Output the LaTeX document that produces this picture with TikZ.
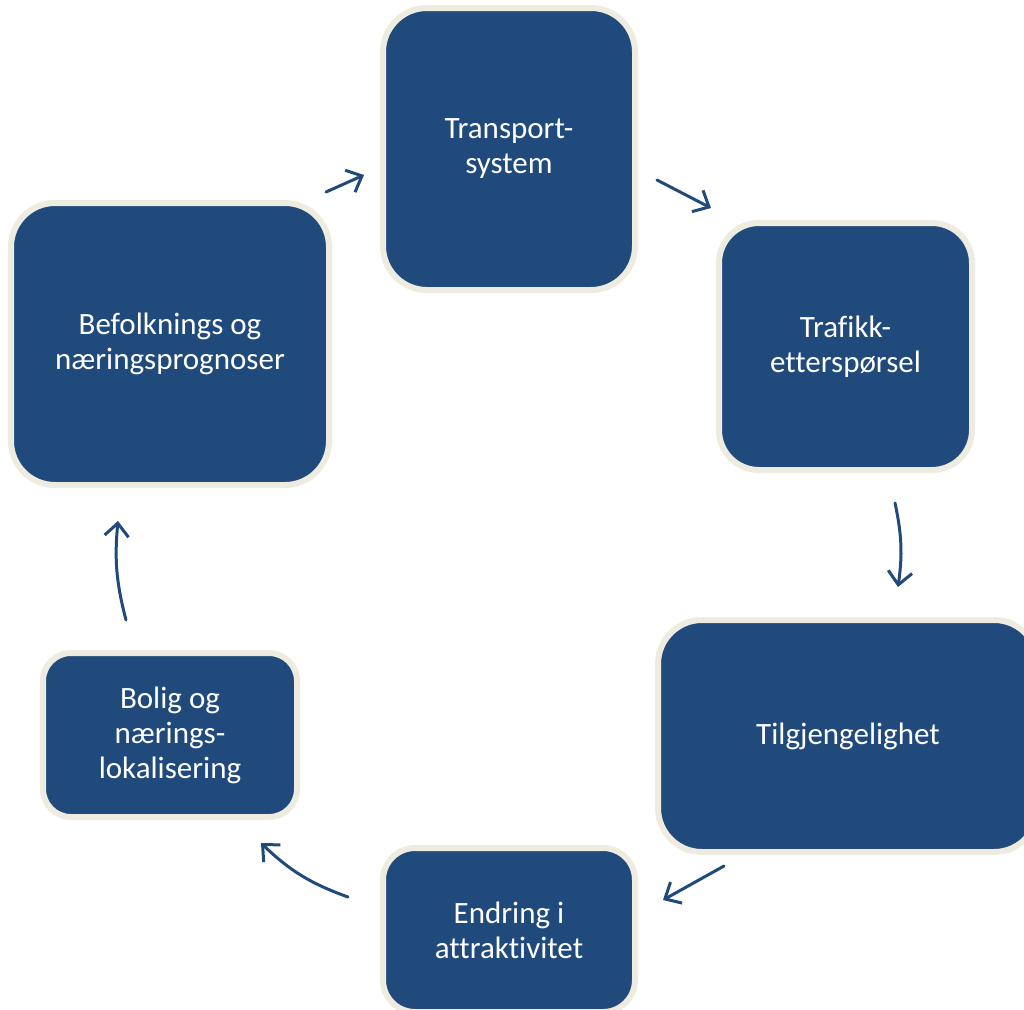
\documentclass[tikz,border=0pt]{standalone}
\usepackage{fontspec}
\setmainfont{Carlito}[Ligatures={NoCommon}]
\usetikzlibrary{arrows.meta}
\definecolor{boxblue}{HTML}{204A7C}
\definecolor{cream}{HTML}{EEECE1}
\begin{document}
\begin{tikzpicture}[x=1pt,y=-1pt,
  blk/.style={draw=cream,line width=6pt,fill=boxblue,text=white,
    rounded corners=#1,inner sep=0pt,align=center,
    font=\fontsize{31}{35}\selectfont},
  blk/.default=44pt,
  flow/.style={draw=boxblue,line width=3pt,line cap=round,
    -{Straight Barb[length=13pt,width=24pt,line width=3pt]}}]
\useasboundingbox (0,0) rectangle (1024,1009);
\clip (0,0) rectangle (1024,1009);
\fill[white] (0,0) rectangle (1024,1009);
\node[blk,minimum width=252pt,minimum height=282pt] (ts) at (509,149) {Transport-\\system};
\node[blk=40pt,minimum width=253pt,minimum height=247pt] (te) at (845.5,346.5) {Trafikk-\\etterspørsel};
\node[blk,minimum width=380pt,minimum height=232pt] (tg) at (848,736) {Tilgjengelighet};
\node[blk=32pt,minimum width=252pt,minimum height=164pt] (ea) at (509,930) {Endring i\\attraktivitet};
\node[blk=28pt,minimum width=254pt,minimum height=164pt] (bn) at (170,735) {Bolig og\\nærings-\\lokalisering};
\node[blk,minimum width=318pt,minimum height=282pt] (bp) at (170,344) {Befolknings og\\næringsprognoser};
\coordinate (a1s) at (326,192); \coordinate (a1e) at (364,175);
\coordinate (a2s) at (657,180); \coordinate (a2e) at (711,208);
\coordinate (a3s) at (895,503); \coordinate (a3e) at (898,587);
\coordinate (a4s) at (724,866); \coordinate (a4e) at (663,900);
\coordinate (a5s) at (348,897); \coordinate (a5e) at (261,843);
\coordinate (a6s) at (126,620); \coordinate (a6e) at (118,521);
\draw[flow] (a1s) -- (a1e);
\draw[flow] (a2s) -- (a2e);
\draw[flow] (a3s) to[bend left=10] (a3e);
\draw[flow] (a4s) -- (a4e);
\draw[flow] (a5s) to[bend left=12] (a5e);
\draw[flow] (a6s) to[bend left=10] (a6e);
\end{tikzpicture}
\end{document}
